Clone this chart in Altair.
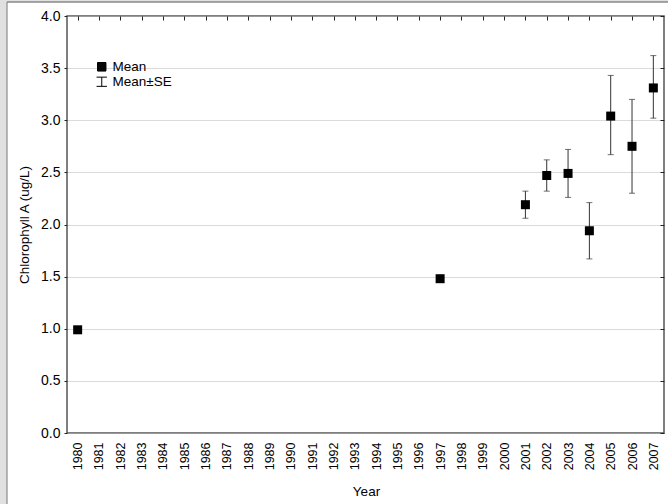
import altair as alt
import pandas as pd

# ---- data ----
years = [1980, 1997, 2001, 2002, 2003, 2004, 2005, 2006, 2007]
means = [0.99, 1.48, 2.19, 2.47, 2.49, 1.94, 3.04, 2.75, 3.31]
se_low = [None, None, 2.06, 2.32, 2.26, 1.67, 2.67, 2.30, 3.02]
se_high = [None, None, 2.32, 2.62, 2.72, 2.21, 3.43, 3.20, 3.62]
year_labels = list(range(1980, 2008))
y_ticks = [0.0, 0.5, 1.0, 1.5, 2.0, 2.5, 3.0, 3.5, 4.0]
legend_labels = ["Mean", "Mean\u00b1SE"]

df = pd.DataFrame({"year": years, "mean": means, "lo": se_low, "hi": se_high,
                   "series": [legend_labels[0]] * len(years)})
deco = pd.DataFrame({"d": [0]})

FONT = "Liberation Sans"
# legend symbols (stroke-drawn): a solid square made of dense hairlines, and an I-beam
SQ_PATH = "M-1.05,-1.05L1.05,-1.05L1.05,1.05L-1.05,1.05Z" + "".join(
    f"M-1.05,{k / 8:.3f}L1.05,{k / 8:.3f}" for k in range(-8, 9))
ERR_PATH = "M0,-1.15L0,1.15M-1.3,-1.15L1.3,-1.15M-1.3,1.15L1.3,1.15"

xs = alt.Scale(domain=[1979.5, 2007.5], nice=False, zero=False)
ys = alt.Scale(domain=[0, 4], nice=False, zero=True)

ax_x_labels = alt.Axis(
    values=year_labels, format="d", labelAngle=-90, ticks=False, tickSize=0,
    domain=False, grid=False, labelPadding=9, labelFontSize=12.5, labelFont=FONT,
    labelColor="black", labelOverlap=False, labelFlush=False,
    title="Year", titleFont=FONT, titleFontSize=13.5, titleFontWeight="normal",
    titleColor="black", titleX=299, titleY=62, titleBaseline="alphabetic",
)
ax_x_ticks = alt.Axis(
    values=list(range(1980, 2008, 2)), labels=False, domain=False, grid=False,
    tickSize=4, offset=-4, tickColor="#222", title=None,
)
ax_x_top = alt.Axis(
    orient="top", values=list(range(1981, 2008, 2)), labels=False, domain=False,
    grid=False, tickSize=4, offset=-4, tickColor="#222", title=None,
)
ax_y_left = alt.Axis(
    values=y_ticks, format=".1f", tickSize=3, tickColor="#222", labelPadding=4,
    labelFontSize=14, labelFont=FONT, labelColor="black", domain=False,
    grid=True, gridColor="#b4b4b4", gridDash=[1, 1], gridWidth=1,
    title="Chlorophyll A (ug/L)", titleFont=FONT, titleFontSize=13.5,
    titleFontWeight="normal", titleColor="black", titleX=-43, titleY=208.5,
    titleBaseline="middle", titleAlign="center", titleAngle=270,
)
ax_y_right = alt.Axis(
    orient="right", values=y_ticks, labels=False, domain=False, grid=False,
    tickSize=4, offset=-4, tickColor="#222", title=None,
)

# decoration: grey window strip and panel border
strip_left = alt.Chart(deco).mark_rect(color="#e0e0e0").encode(
    x=alt.value(-67), x2=alt.value(-60), y=alt.value(-16), y2=alt.value(488))
strip_top = alt.Chart(deco).mark_rect(color="#e0e0e0").encode(
    x=alt.value(-67), x2=alt.value(601), y=alt.value(-16), y2=alt.value(-14))
border_left = alt.Chart(deco).mark_rule(color="#8a8a8a", strokeWidth=1.2).encode(
    x=alt.value(-60), y=alt.value(-14), y2=alt.value(488))
border_top = alt.Chart(deco).mark_rule(color="#8a8a8a", strokeWidth=1.5).encode(
    x=alt.value(-60), x2=alt.value(601), y=alt.value(-14))

base = alt.Chart(df)

rules = base.transform_filter("isValid(datum.lo)").mark_rule(
    color="#333", strokeWidth=1).encode(
    x=alt.X("year:Q", scale=xs, axis=ax_x_labels),
    y=alt.Y("lo:Q", scale=ys, axis=ax_y_left),
    y2="hi:Q",
)

caps = base.transform_fold(["lo", "hi"], as_=["k", "v"]).transform_filter(
    "isValid(datum.v)").mark_tick(
    orient="horizontal", size=6, thickness=1, color="#333").encode(
    x=alt.X("year:Q", scale=xs, axis=ax_x_ticks),
    y=alt.Y("v:Q", scale=ys, axis=ax_y_right),
)

points = base.mark_square(size=81, color="black", opacity=1).encode(
    x=alt.X("year:Q", scale=xs, axis=ax_x_top),
    y=alt.Y("mean:Q", scale=ys, axis=None),
)

# legend only (no marks drawn): shape scale with explicit domain
legend_layer = base.transform_filter("false").mark_point(
    filled=False, color="black", strokeWidth=1, opacity=1).encode(
    shape=alt.Shape(
        "series:N",
        scale=alt.Scale(domain=legend_labels, range=[SQ_PATH, ERR_PATH]),
        legend=alt.Legend(
            title=None, orient="none", legendX=28, legendY=44, padding=0,
            labelFontSize=13.5, labelFont=FONT, labelColor="black",
            symbolSize=64, labelOffset=4, rowPadding=0,
            symbolStrokeColor="black", symbolStrokeWidth=1, symbolOpacity=1,
        ),
    ),
)

chart = alt.layer(
    strip_left, strip_top, border_left, border_top, rules, caps, points,
    legend_layer,
).resolve_axis(x="independent", y="independent").properties(
    width=597, height=417,
    autosize=alt.AutoSizeParams(type="none"),
    padding={"left": 67, "top": 16, "right": 4, "bottom": 71},
    background="white",
).configure_view(stroke="#555", strokeWidth=1.5)

chart.save("out.html", embed_options={"renderer": "svg", "actions": False})
